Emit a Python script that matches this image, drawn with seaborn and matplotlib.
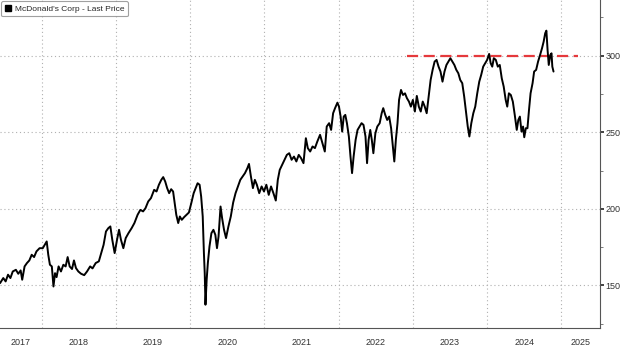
import matplotlib
matplotlib.use("Agg")
import matplotlib.pyplot as plt
from matplotlib.patches import Patch
import seaborn as sns
import pandas as pd

# ---- data (decimal year, price) ----
dates = [2017.441, 2017.484, 2017.516, 2017.548, 2017.580, 2017.612, 2017.654, 2017.686, 2017.718, 2017.739,
         2017.771, 2017.803, 2017.835, 2017.867, 2017.899, 2017.931, 2017.973, 2018.016, 2018.043, 2018.069,
         2018.090, 2018.112, 2018.138, 2018.160, 2018.181, 2018.202, 2018.229, 2018.261, 2018.293, 2018.324,
         2018.351, 2018.378, 2018.410, 2018.436, 2018.463, 2018.495, 2018.532, 2018.574, 2018.612, 2018.654,
         2018.686, 2018.729, 2018.771, 2018.803, 2018.835, 2018.867, 2018.899, 2018.926, 2018.952, 2018.984,
         2019.016, 2019.043, 2019.069, 2019.101, 2019.133, 2019.170, 2019.213, 2019.250, 2019.293, 2019.330,
         2019.367, 2019.399, 2019.436, 2019.473, 2019.516, 2019.548, 2019.580, 2019.612, 2019.638, 2019.665,
         2019.691, 2019.718, 2019.745, 2019.771, 2019.793, 2019.814, 2019.840, 2019.862, 2019.888, 2019.920,
         2019.952, 2019.984, 2020.016, 2020.048, 2020.080, 2020.101, 2020.128, 2020.149, 2020.170, 2020.186,
         2020.197, 2020.207, 2020.223, 2020.239, 2020.261, 2020.287, 2020.314, 2020.340, 2020.362, 2020.383,
         2020.410, 2020.431, 2020.457, 2020.484, 2020.516, 2020.548, 2020.580, 2020.612, 2020.644, 2020.676,
         2020.707, 2020.739, 2020.771, 2020.793, 2020.819, 2020.846, 2020.872, 2020.899, 2020.931, 2020.963,
         2020.995, 2021.027, 2021.059, 2021.090, 2021.122, 2021.154, 2021.181, 2021.207, 2021.239, 2021.271,
         2021.303, 2021.335, 2021.367, 2021.399, 2021.431, 2021.463, 2021.495, 2021.527, 2021.559, 2021.585,
         2021.617, 2021.649, 2021.681, 2021.713, 2021.750, 2021.782, 2021.814, 2021.840, 2021.872, 2021.899,
         2021.926, 2021.952, 2021.984, 2022.005, 2022.027, 2022.048, 2022.069, 2022.090, 2022.112, 2022.138,
         2022.160, 2022.181, 2022.202, 2022.229, 2022.255, 2022.282, 2022.309, 2022.335, 2022.362, 2022.383,
         2022.404, 2022.426, 2022.447, 2022.468, 2022.495, 2022.521, 2022.553, 2022.580, 2022.601, 2022.628,
         2022.654, 2022.681, 2022.707, 2022.734, 2022.750, 2022.771, 2022.793, 2022.814, 2022.840, 2022.867,
         2022.894, 2022.920, 2022.947, 2022.973, 2023.000, 2023.027, 2023.053, 2023.080, 2023.106, 2023.133,
         2023.160, 2023.186, 2023.213, 2023.239, 2023.266, 2023.293, 2023.319, 2023.346, 2023.372, 2023.399,
         2023.426, 2023.452, 2023.479, 2023.505, 2023.532, 2023.559, 2023.585, 2023.612, 2023.638, 2023.665,
         2023.691, 2023.718, 2023.739, 2023.761, 2023.787, 2023.814, 2023.840, 2023.867, 2023.894, 2023.920,
         2023.947, 2023.973, 2024.000, 2024.027, 2024.048, 2024.069, 2024.090, 2024.117, 2024.144, 2024.170,
         2024.197, 2024.223, 2024.250, 2024.271, 2024.293, 2024.319, 2024.346, 2024.372, 2024.399, 2024.420,
         2024.441, 2024.463, 2024.484, 2024.500, 2024.521, 2024.543, 2024.564, 2024.585, 2024.612, 2024.633,
         2024.660, 2024.686, 2024.713, 2024.739, 2024.761, 2024.782, 2024.798, 2024.814, 2024.830, 2024.851,
         2024.867, 2024.878, 2024.894]
prices = [151.5, 154.8, 152.6, 157.0, 154.8, 159.1, 160.2, 157.6, 159.8, 153.7,
          162.4, 164.6, 166.3, 170.0, 168.5, 172.2, 174.3, 174.3, 176.5, 178.7,
          170.0, 163.5, 162.4, 149.3, 158.0, 155.4, 162.4, 159.1, 163.5, 162.4,
          168.5, 162.4, 160.7, 166.3, 161.3, 159.1, 157.6, 156.7, 159.1, 162.4,
          161.1, 164.6, 165.7, 171.1, 176.5, 185.2, 187.4, 188.5, 179.8, 171.1,
          179.8, 186.3, 179.8, 174.3, 180.9, 184.1, 187.4, 190.7, 196.1, 199.3,
          198.3, 200.4, 204.8, 207.0, 212.4, 211.3, 215.7, 218.9, 220.7, 217.8,
          213.5, 210.2, 212.8, 211.3, 203.7, 196.1, 190.7, 195.0, 192.8, 194.6,
          196.1, 197.6, 203.7, 210.2, 214.1, 216.7, 215.7, 208.0, 195.0, 171.1,
          158.0, 137.4, 153.7, 164.6, 175.4, 184.1, 186.3, 183.0, 174.3, 181.9,
          201.5, 193.9, 186.3, 180.9, 188.5, 195.0, 204.1, 210.2, 214.6, 218.9,
          221.1, 223.3, 226.5, 229.3, 221.1, 213.5, 218.9, 215.7, 210.2, 214.6,
          211.3, 215.7, 209.1, 214.6, 210.2, 205.4, 218.9, 225.4, 228.7, 232.0,
          235.2, 236.3, 232.0, 234.1, 230.9, 235.2, 233.0, 229.8, 246.1, 239.6,
          237.4, 240.7, 239.6, 243.9, 248.3, 242.8, 237.4, 253.7, 255.9, 251.5,
          262.4, 265.7, 269.3, 266.7, 260.2, 250.4, 260.2, 261.3, 255.9, 247.2,
          234.1, 223.3, 234.1, 245.0, 251.5, 253.7, 255.9, 254.8, 247.2, 229.8,
          245.0, 251.5, 245.0, 236.3, 249.3, 253.7, 255.9, 262.4, 265.7, 261.3,
          258.0, 260.2, 252.6, 238.5, 230.9, 245.0, 255.9, 271.1, 277.6, 274.3,
          275.4, 272.2, 270.0, 266.7, 271.1, 263.5, 273.7, 266.7, 263.5, 270.0,
          266.7, 262.4, 273.3, 284.1, 290.7, 296.1, 297.2, 292.8, 289.6, 283.0,
          289.6, 293.9, 296.1, 298.3, 296.1, 293.9, 290.7, 288.5, 284.1, 282.0,
          273.3, 262.4, 253.7, 247.2, 255.9, 262.4, 266.7, 275.4, 283.0, 287.4,
          292.8, 295.0, 297.2, 301.1, 295.0, 292.8, 298.3, 297.2, 292.8, 293.9,
          285.2, 279.8, 271.1, 266.7, 275.4, 274.3, 270.0, 261.3, 251.5, 258.0,
          260.2, 250.4, 253.7, 246.7, 252.6, 252.6, 264.6, 275.4, 282.0, 289.6,
          290.7, 296.1, 300.4, 304.8, 309.1, 314.6, 316.3, 303.7, 293.9, 300.4,
          301.5, 292.8, 289.6]
resistance_level = 300
resistance_span = [2022.92, 2025.23]
year_labels = ["2017", "2018", "2019", "2020", "2021", "2022", "2023", "2024", "2025"]
y_ticks = [150, 200, 250, 300]
y_minor_ticks = [125, 175, 225, 275, 325]
legend_label = "McDonald's Corp - Last Price"

df = pd.DataFrame({"date": dates, "price": prices})

sns.set_style("white")
plt.rcParams["font.family"] = ["Liberation Sans", "DejaVu Sans"]

fig = plt.figure(figsize=(6.2, 3.48), dpi=100)
ax = fig.add_axes([0.0, 20 / 348, 600 / 620, 328 / 348])

x_min, x_max = 2017.44, 2025.52
y_min, y_max = 122.2, 336.3

sns.lineplot(data=df, x="date", y="price", ax=ax, color="black", linewidth=1.4,
             legend=False, zorder=4)
ax.plot(resistance_span, [resistance_level] * 2, color="#e5393c", linewidth=1.6,
        linestyle=(0, (5, 2.5)), zorder=3)

ax.set_xlim(x_min, x_max)
ax.set_ylim(y_min, y_max)
ax.set_xlabel("")
ax.set_ylabel("")

# spines
for s in ["left", "top"]:
    ax.spines[s].set_visible(False)
for s in ["right", "bottom"]:
    ax.spines[s].set_color("#555555")
    ax.spines[s].set_linewidth(0.8)

# y axis on right
ax.yaxis.tick_right()
ax.set_yticks(y_ticks)
ax.set_yticks(y_minor_ticks, minor=True)
ax.tick_params(axis="y", which="major", direction="out", length=3, width=1.2,
               color="#222222", labelsize=6.5, labelcolor="#333333", pad=1)
ax.tick_params(axis="y", which="minor", direction="out", length=2, width=0.6,
               color="#666666")

# x axis: year boundaries as long ticks, quarters as minor ticks
years = [int(y) for y in year_labels]
boundaries = [y for y in years if x_min < y < x_max]
ax.set_xticks(boundaries)
ax.set_xticklabels([])
quarters = [y + q for y in years for q in (0.25, 0.5, 0.75) if x_min < y + q < x_max]
ax.set_xticks(quarters, minor=True)
ax.tick_params(axis="x", which="major", direction="out", length=15, width=0.8,
               color="#555555")
ax.tick_params(axis="x", which="minor", direction="out", length=2, width=0.6,
               color="#777777")

# year labels centered in visible portion of each year
trans = ax.get_xaxis_transform()
for lab in year_labels:
    y0 = max(int(lab), x_min)
    y1 = min(int(lab) + 1, x_max)
    ax.text((y0 + y1) / 2, -0.03, lab, transform=trans, ha="center", va="top",
            fontsize=6.5, color="#333333")

# grid
ax.grid(True, which="major", axis="both", linestyle=(0, (1, 2.5)),
        color="#b0b0b0", linewidth=0.8)

# legend with a square swatch
handle = Patch(facecolor="black", edgecolor="black", label=legend_label)
leg = ax.legend(handles=[handle], loc="upper left", fontsize=6, frameon=True,
                handlelength=0.8, handleheight=0.8, handletextpad=0.4,
                borderpad=0.45, borderaxespad=0.1, fancybox=True,
                edgecolor="#888888")
leg.get_frame().set_linewidth(0.8)

fig.savefig("out.png", dpi=100)
